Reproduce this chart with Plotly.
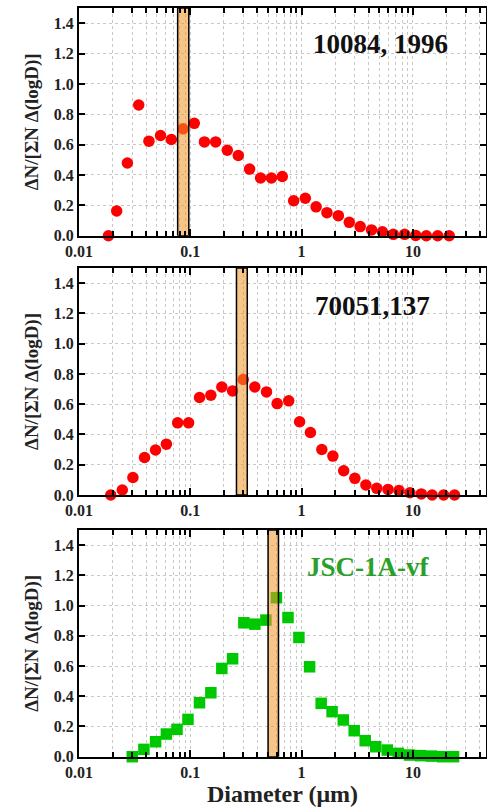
import plotly.graph_objects as go

# ---- data -------------------------------------------------------------
top_d = [0.0184, 0.0218, 0.0272, 0.0344, 0.0425, 0.054, 0.0676, 0.086, 0.1086,
         0.134, 0.169, 0.215, 0.270, 0.341, 0.428, 0.536, 0.671, 0.849, 1.08,
         1.35, 1.69, 2.14, 2.68, 3.36, 4.25, 5.32, 6.67, 8.43, 10.6, 13.2, 16.7, 21.2]
top_v = [0.0, 0.163, 0.479, 0.861, 0.623, 0.66, 0.634, 0.704, 0.74,
         0.618, 0.618, 0.563, 0.528, 0.439, 0.38, 0.38, 0.39, 0.23, 0.247,
         0.19, 0.152, 0.132, 0.088, 0.06, 0.038, 0.026, 0.009, 0.009, 0.002, 0.0, 0.0, 0.0]

mid_d = [0.0193, 0.0245, 0.0305, 0.0388, 0.0487, 0.061, 0.077, 0.0966, 0.121,
         0.153, 0.192, 0.240, 0.299, 0.380, 0.484, 0.603, 0.766, 0.96, 1.20,
         1.52, 1.91, 2.39, 3.01, 3.78, 4.74, 5.98, 7.5, 9.4, 11.9, 14.9, 18.9, 23.7]
mid_v = [0.0, 0.033, 0.116, 0.248, 0.297, 0.336, 0.477, 0.477, 0.644,
         0.659, 0.714, 0.688, 0.763, 0.714, 0.681, 0.604, 0.622, 0.484, 0.413,
         0.301, 0.257, 0.160, 0.11, 0.066, 0.044, 0.037, 0.029, 0.015, 0.007, 0.0, 0.0, 0.0]

jsc_d = [0.0301, 0.0383, 0.0488, 0.061, 0.076, 0.0953, 0.121, 0.153, 0.192,
         0.240, 0.303, 0.380, 0.478, 0.594, 0.755, 0.946, 1.18, 1.50, 1.88,
         2.37, 2.97, 3.73, 4.64, 5.89, 7.39, 9.33, 11.7, 14.7, 18.5, 23.2]
jsc_v = [0.0, 0.0485, 0.099, 0.150, 0.181, 0.247, 0.357, 0.423, 0.584,
         0.648, 0.886, 0.877, 0.904, 1.052, 0.921, 0.789, 0.595, 0.353, 0.298,
         0.243, 0.172, 0.106, 0.066, 0.044, 0.022, 0.011, 0.007, 0.004, 0.0, 0.0]

# highlighted diameter bands (low, high) per sample
bands = [(0.077, 0.097), (0.26, 0.325), (0.50, 0.62)]
labels = ["10084, 1996", "70051,137", "JSC-1A-vf"]

x_ticks = [0.01, 0.1, 1, 10]
x_tick_text = ["0.01", "0.1", "1", "10"]
y_ticks = [0.0, 0.2, 0.4, 0.6, 0.8, 1.0, 1.2, 1.4]
y_tick_text = ["0.0", "0.2", "0.4", "0.6", "0.8", "1.0", "1.2", "1.4"]
minor_x = [m * 10 ** e for e in (-2, -1, 0, 1) for m in range(2, 10)]

y_title = "ΔN/[ΣN Δ(logD)]"
x_title = "Diameter (μm)"

FONT = "Liberation Serif"
W, H = 487, 807

# ---- layout geometry (pixel rows of each panel) ------------------------
panels = [(8, 235.7), (268, 495), (530, 756.7)]
x_dom = [79 / W, 486 / W]
x_range = [-2, 1.657]

fig = go.Figure()

series = [
    (top_d, top_v, "circle", "#ff0000"),
    (mid_d, mid_v, "circle", "#ff0000"),
    (jsc_d, jsc_v, "square", "#00c800"),
]

for i, (d, v, sym, col) in enumerate(series):
    sx = "x" if i == 0 else f"x{i + 1}"
    sy = "y" if i == 0 else f"y{i + 1}"
    fig.add_trace(go.Scatter(
        x=d, y=v, mode="markers", xaxis=sx, yaxis=sy, cliponaxis=False,
        marker=dict(symbol=sym, size=11.5, color=col, line=dict(width=0)),
        showlegend=False, hoverinfo="skip"))
    lo, hi = bands[i]
    fig.add_trace(go.Scatter(
        x=[lo, lo, hi, hi, lo], y=[0, 1.5, 1.5, 0, 0], mode="lines",
        xaxis=sx, yaxis=sy, fill="toself",
        fillcolor="rgba(243,150,40,0.55)",
        line=dict(color="black", width=1.5),
        showlegend=False, hoverinfo="skip"))

grid_col = "#c8c8c8"
for i, (top_px, bot_px) in enumerate(panels):
    xname = "xaxis" if i == 0 else f"xaxis{i + 1}"
    yname = "yaxis" if i == 0 else f"yaxis{i + 1}"
    yanchor = "y" if i == 0 else f"y{i + 1}"
    xanchor = "x" if i == 0 else f"x{i + 1}"
    dom = [(H - bot_px) / H, (H - top_px) / H]
    xa = dict(
        type="log", domain=x_dom, range=x_range, anchor=yanchor,
        automargin=False,
        tickmode="array", tickvals=x_ticks, ticktext=x_tick_text,
        ticks="inside", ticklen=7, tickwidth=2, tickcolor="black",
        showline=True, linecolor="black", linewidth=2, mirror="ticks",
        showgrid=True, gridcolor=grid_col, griddash="dot", gridwidth=1,
        tickfont=dict(family=FONT, size=16, color="#222", weight="bold"),
        minor=dict(tickmode="array", tickvals=minor_x, ticks="inside",
                   ticklen=5, tickwidth=1.5, tickcolor="black",
                   showgrid=True, gridcolor=grid_col, griddash="dot", gridwidth=1),
        zeroline=False, fixedrange=True,
    )
    if i == 2:
        xa["title"] = dict(text=x_title, standoff=8,
                           font=dict(family=FONT, size=24, color="#222", weight="bold"))
    fig.layout[xname] = xa
    fig.layout[yname] = dict(
        domain=dom, range=[0, 1.5], anchor=xanchor,
        automargin=False,
        tickmode="array", tickvals=y_ticks, ticktext=y_tick_text,
        ticks="inside", ticklen=6, tickwidth=1.5, tickcolor="black",
        showline=True, linecolor="black", linewidth=2, mirror="ticks",
        showgrid=True, gridcolor=grid_col, griddash="dot", gridwidth=1,
        tickfont=dict(family=FONT, size=16, color="#222", weight="bold"),
        title=dict(text=y_title, standoff=10,
                   font=dict(family=FONT, size=19, color="#222", weight="bold")),
        zeroline=False, fixedrange=True,
    )

# sample labels
label_pos = [(380, 44, "#111"), (372, 306, "#111"), (368, 567, "#2aa02a")]
for (px, py, c), txt in zip(label_pos, labels):
    fig.add_annotation(
        x=px / W, y=(H - py) / H, xref="paper", yref="paper",
        text=txt, showarrow=False, xanchor="center", yanchor="middle",
        font=dict(family=FONT, size=27, color=c, weight="bold"))

fig.update_layout(
    width=W, height=H,
    margin=dict(l=0, r=0, t=0, b=0),
    paper_bgcolor="white", plot_bgcolor="white",
    font=dict(family=FONT, color="#222"),
    showlegend=False,
)

fig.write_html("out.html", config={"displayModeBar": False})
